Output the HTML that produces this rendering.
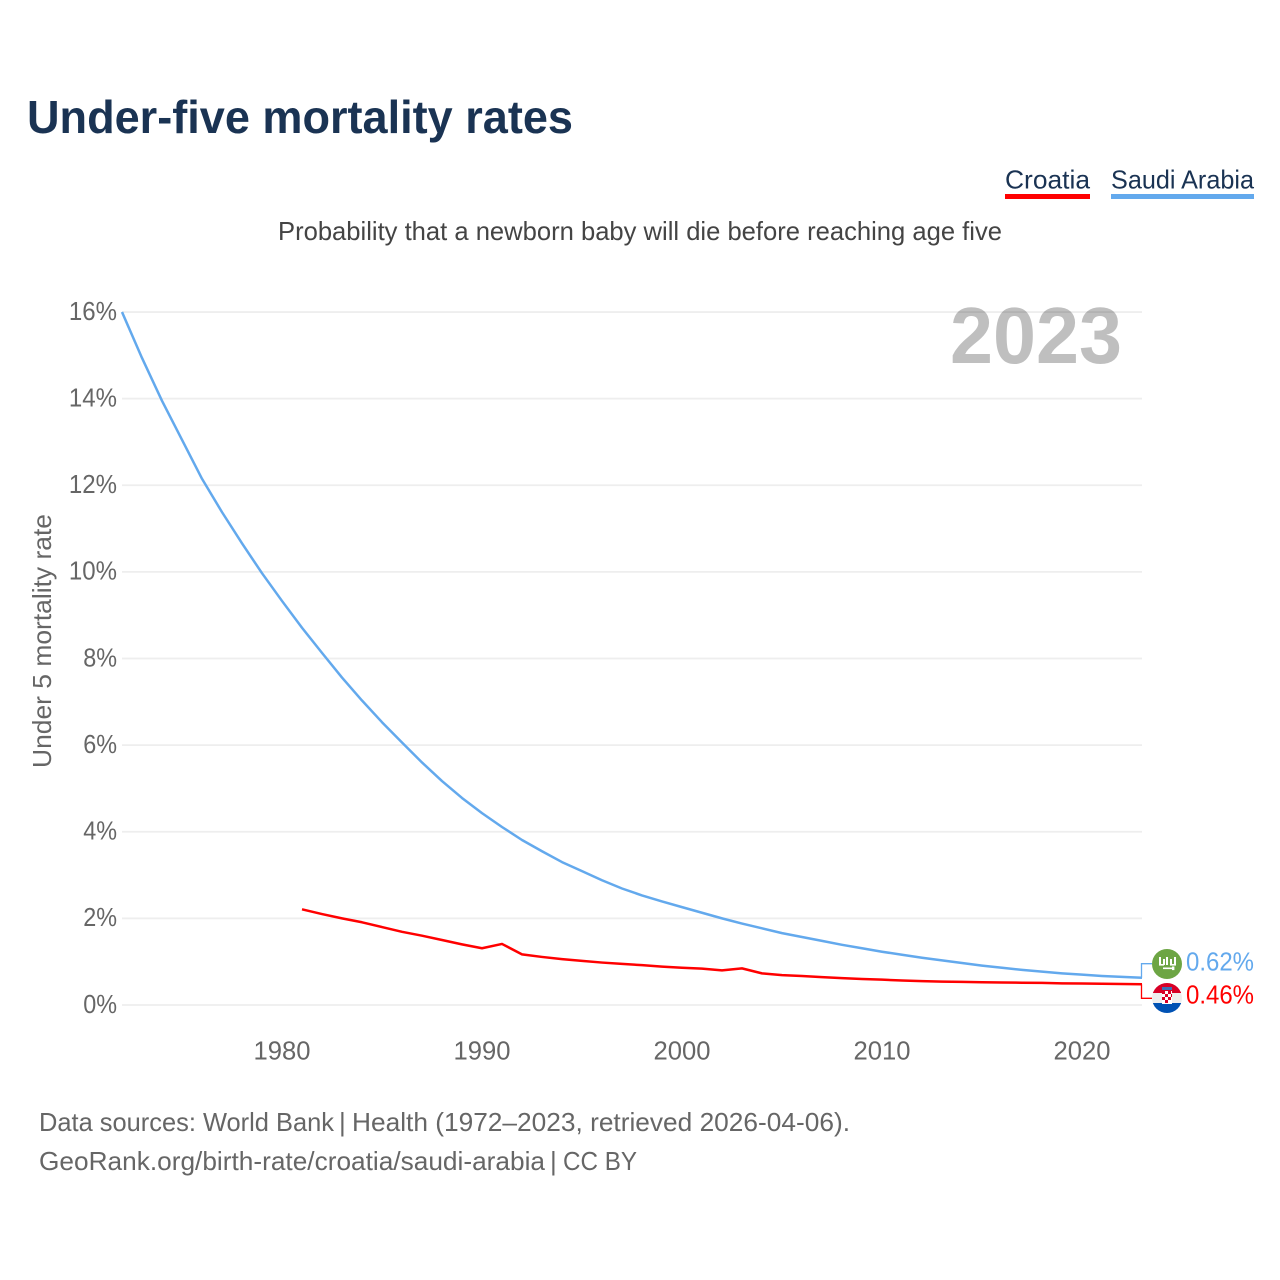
<!DOCTYPE html>
<html lang="en">
<head>
<meta charset="utf-8">
<title>Under-five mortality rates</title>
<style>
  html, body { margin: 0; padding: 0; background: #fff; }
  svg { display: block; font-family: "Liberation Sans", sans-serif; }
</style>
</head>
<body>
<svg id="chart" width="1280" height="1280" viewBox="0 0 1280 1280" xmlns="http://www.w3.org/2000/svg">
  <defs>
    <clipPath id="flag-clip-hr"><circle cx="1167" cy="998" r="15"></circle></clipPath>
  </defs>
  <rect x="0" y="0" width="1280" height="1280" fill="#ffffff"></rect>

  <text x="27" y="133" font-size="46" font-weight="700" fill="#1a3353" textLength="546" lengthAdjust="spacingAndGlyphs">Under-five mortality rates</text>

  <g>
    <g>
      <text x="1005" y="188.5" font-size="26" fill="#1a3353" textLength="85" lengthAdjust="spacingAndGlyphs">Croatia</text>
      <rect x="1005" y="194" width="85" height="5" fill="#ff0000"></rect>
    </g>
    <g>
      <text x="1111" y="188.5" font-size="26" fill="#1a3353" textLength="143" lengthAdjust="spacingAndGlyphs">Saudi Arabia</text>
      <rect x="1111" y="194" width="143" height="5" fill="#63a9ed"></rect>
    </g>
  </g>

  <text x="278" y="240" font-size="26" fill="#444444" textLength="724" lengthAdjust="spacingAndGlyphs">Probability that a newborn baby will die before reaching age five</text>

  <g id="grid"></g>
  <g id="y-ticks"></g>
  <g id="x-ticks"></g>

  <text transform="translate(51 768) rotate(-90)" x="0" y="0" font-size="26" fill="#666666" textLength="254" lengthAdjust="spacingAndGlyphs">Under 5 mortality rate</text>

  <text x="1122" y="363" font-size="80" font-weight="700" fill="#000000" fill-opacity="0.25" text-anchor="end" textLength="172" lengthAdjust="spacingAndGlyphs">2023</text>

  <g id="series"></g>
  <g id="end-connectors"></g>

  <g>
    <circle cx="1167" cy="964" r="15" fill="#6da544"></circle>
    <g fill="#ffffff">
      <rect x="1159" y="957" width="2" height="7"></rect>
      <rect x="1163" y="959" width="2" height="6"></rect>
      <rect x="1166" y="957" width="2" height="8"></rect>
      <rect x="1170" y="959" width="2" height="5"></rect>
      <rect x="1174" y="957" width="2" height="8"></rect>
      <rect x="1159" y="964" width="5" height="1.6"></rect>
      <rect x="1170" y="964" width="6" height="1.6"></rect>
      <rect x="1163" y="967.5" width="10" height="1.6"></rect>
      <rect x="1172" y="966.5" width="2.4" height="3.6"></rect>
    </g>
  </g>
  <g clip-path="url(#flag-clip-hr)">
    <rect x="1152" y="983" width="30" height="10" fill="#d80027"></rect>
    <rect x="1152" y="993" width="30" height="10" fill="#eeeeee"></rect>
    <rect x="1152" y="1003" width="30" height="10" fill="#0052b4"></rect>
    <g>
      <rect x="1162" y="991" width="10" height="13" fill="#ffffff"></rect>
      <rect x="1162" y="991" width="3" height="3" fill="#d80027"></rect>
      <rect x="1168" y="991" width="3" height="3" fill="#d80027"></rect>
      <rect x="1165" y="994" width="3" height="3" fill="#d80027"></rect>
      <rect x="1171" y="994" width="1" height="3" fill="#d80027"></rect>
      <rect x="1162" y="997" width="3" height="3" fill="#d80027"></rect>
      <rect x="1168" y="997" width="3" height="3" fill="#d80027"></rect>
      <rect x="1165" y="1000" width="3" height="3" fill="#d80027"></rect>
      <rect x="1162" y="987" width="10" height="3" fill="#3f6fb5"></rect>
    </g>
  </g>

  <text x="1186" y="970.5" font-size="26" fill="#63a9ed" textLength="68" lengthAdjust="spacingAndGlyphs">0.62%</text>
  <text x="1186" y="1003.5" font-size="26" fill="#ff0000" textLength="68" lengthAdjust="spacingAndGlyphs">0.46%</text>

  <g font-size="26" fill="#666666">
    <text x="39" y="1131" textLength="295" lengthAdjust="spacingAndGlyphs">Data sources: World Bank</text>
    <text x="339" y="1131">|</text>
    <text x="352" y="1131" textLength="498" lengthAdjust="spacingAndGlyphs">Health (1972–2023, retrieved 2026-04-06).</text>
    <text x="39" y="1170" textLength="506" lengthAdjust="spacingAndGlyphs">GeoRank.org/birth-rate/croatia/saudi-arabia</text>
    <text x="550" y="1170">|</text>
    <text x="563" y="1170" textLength="74" lengthAdjust="spacingAndGlyphs">CC BY</text>
  </g>
</svg>

<script>
const saudiYears = [1972,1973,1974,1975,1976,1977,1978,1979,1980,1981,1982,1983,1984,1985,1986,1987,1988,1989,1990,1991,1992,1993,1994,1995,1996,1997,1998,1999,2000,2001,2002,2003,2004,2005,2006,2007,2008,2009,2010,2011,2012,2013,2014,2015,2016,2017,2018,2019,2020,2021,2022,2023];
const saudiValues = [16.0,14.94,13.95,13.05,12.15,11.38,10.66,9.97,9.33,8.71,8.13,7.56,7.03,6.53,6.06,5.6,5.17,4.78,4.43,4.11,3.81,3.55,3.3,3.09,2.88,2.69,2.53,2.39,2.26,2.13,2.0,1.88,1.77,1.66,1.57,1.48,1.39,1.31,1.23,1.16,1.09,1.03,0.97,0.91,0.86,0.81,0.77,0.73,0.7,0.67,0.65,0.63];
const croatiaYears = [1981,1982,1983,1984,1985,1986,1987,1988,1989,1990,1991,1992,1993,1994,1995,1996,1997,1998,1999,2000,2001,2002,2003,2004,2005,2006,2007,2008,2009,2010,2011,2012,2013,2014,2015,2016,2017,2018,2019,2020,2021,2022,2023];
const croatiaValues = [2.21,2.1,2.0,1.91,1.8,1.69,1.6,1.5,1.4,1.31,1.41,1.17,1.11,1.06,1.02,0.98,0.95,0.92,0.885,0.86,0.84,0.8,0.845,0.73,0.69,0.67,0.645,0.62,0.6,0.585,0.565,0.55,0.54,0.535,0.525,0.52,0.515,0.51,0.5,0.495,0.49,0.485,0.48];
const yTickValues = [0,2,4,6,8,10,12,14,16];
const xTickValues = [1980,1990,2000,2010,2020];

const SVG_NS = 'http://www.w3.org/2000/svg';
function xScale(year) { return 122 + (year - 1972) * 20; }
function yScale(value) { return 1005 - value * 43.31; }

function make(tag, attrs, parent) {
  const el = document.createElementNS(SVG_NS, tag);
  for (const k in attrs) el.setAttribute(k, attrs[k]);
  parent.appendChild(el);
  return el;
}

const gridGroup = document.getElementById('grid');
const yTickGroup = document.getElementById('y-ticks');
yTickValues.forEach(function (v) {
  const line = make('line', { x1: 122, x2: 1142, y1: yScale(v), y2: yScale(v), stroke: '#eeeeee', 'stroke-width': 1.8 }, gridGroup);
  
  
  const label = v + '%';
  const t = make('text', { x: 117, y: yScale(v) + 7.8, 'font-size': 26, fill: '#666666', 'text-anchor': 'end', textLength: String(v).length * 14.3 + 19.5, lengthAdjust: 'spacingAndGlyphs' }, yTickGroup);
  t.textContent = label;
  
  
});

const xTickGroup = document.getElementById('x-ticks');
xTickValues.forEach(function (year) {
  const t = make('text', { x: xScale(year), y: 1059.5, 'font-size': 26, fill: '#666666', 'text-anchor': 'middle', textLength: 57, lengthAdjust: 'spacingAndGlyphs' }, xTickGroup);
  t.textContent = String(year);
  
  
});

function linePath(years, values) {
  return years.map(function (y, i) {
    return (i ? 'L' : 'M') + xScale(y).toFixed(1) + ' ' + yScale(values[i]).toFixed(2);
  }).join(' ');
}

const seriesGroup = document.getElementById('series');
const saudiLine = make('path', { d: linePath(saudiYears, saudiValues), fill: 'none', stroke: '#63a9ed', 'stroke-width': 2.5, 'stroke-linejoin': 'round' }, seriesGroup);


const croatiaLine = make('path', { d: linePath(croatiaYears, croatiaValues), fill: 'none', stroke: '#ff0000', 'stroke-width': 2.5, 'stroke-linejoin': 'round' }, seriesGroup);



const connectorGroup = document.getElementById('end-connectors');
const saudiEndY = yScale(saudiValues[saudiValues.length - 1]);
const croatiaEndY = yScale(croatiaValues[croatiaValues.length - 1]);
const saudiConnector = make('path', { d: 'M1141.5 ' + saudiEndY + ' V963.7 H1152', fill: 'none', stroke: '#63a9ed', 'stroke-width': 1.3 }, connectorGroup);


const croatiaConnector = make('path', { d: 'M1141.5 ' + croatiaEndY + ' V998.3 H1152', fill: 'none', stroke: '#ff0000', 'stroke-width': 1.3 }, connectorGroup);


</script>
</body>
</html>
